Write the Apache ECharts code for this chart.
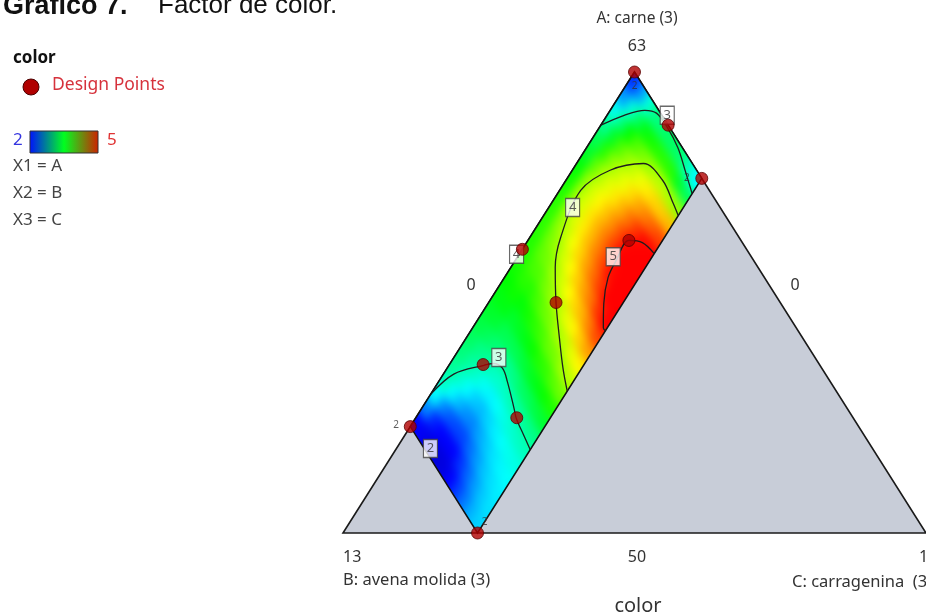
<!DOCTYPE html>
<html><head><meta charset="utf-8">
<script src="https://cdn.jsdelivr.net/npm/echarts@6/dist/echarts.min.js"></script>
<style>
html,body{margin:0;padding:0;background:#fff}
#wrap{position:relative;width:926px;height:616px;overflow:hidden}
.layer{position:absolute;left:0;top:0;width:926px;height:616px}
#surf{filter:blur(5px)}
</style>
</head><body><div id="wrap"><div id="base" class="layer"></div><div id="surf" class="layer"></div><div id="over" class="layer"></div></div>
<script>
// Ternary mixture: A (carne) = 63 - B - C ; pseudo range A 50..63, B 0..13, C 0..13
const vertexB = [0, 13, 0];
const vertexC = [0, 0, 13];
// constrained region (B 0..10, C 0..3)
const regionB = [0, 0, 10, 10];
const regionC = [0, 3, 3, 0];

// response surface "color" on a B x C grid (cell centres)
const gridB = [0.2,0.6,1.0,1.4,1.8,2.2,2.6,3.0,3.4,3.8,4.2,4.6,5.0,5.4,5.8,6.2,6.6,7.0,7.4,7.8,8.2,8.6,9.0,9.4,9.8];
const gridC = [0.15,0.45,0.75,1.05,1.35,1.65,1.95,2.25,2.55,2.85];
const colorValues = [
  [2.15,2.45,2.85,3.10,3.15,3.20,3.20,3.15,2.95,2.75],
  [2.45,2.85,3.20,3.45,3.55,3.60,3.62,3.60,3.40,3.25],
  [2.80,3.15,3.50,3.72,3.85,3.95,4.03,4.05,4.00,3.95],
  [3.07,3.40,3.72,3.92,4.07,4.20,4.30,4.37,4.40,4.45],
  [3.25,3.60,3.90,4.07,4.20,4.35,4.50,4.62,4.72,4.80],
  [3.38,3.78,4.03,4.18,4.32,4.48,4.66,4.84,4.98,5.03],
  [3.48,3.92,4.12,4.27,4.42,4.58,4.77,4.98,5.12,5.18],
  [3.55,3.98,4.15,4.32,4.47,4.63,4.81,5.00,5.18,5.25],
  [3.60,3.98,4.14,4.30,4.45,4.61,4.77,4.95,5.12,5.22],
  [3.62,3.92,4.07,4.23,4.38,4.53,4.68,4.83,5.03,5.13],
  [3.62,3.85,3.97,4.12,4.26,4.40,4.53,4.66,4.85,5.02],
  [3.60,3.78,3.85,3.99,4.12,4.25,4.37,4.47,4.62,4.78],
  [3.58,3.70,3.73,3.85,3.96,4.05,4.18,4.27,4.40,4.53],
  [3.55,3.62,3.60,3.70,3.80,3.87,3.98,4.05,4.17,4.27],
  [3.50,3.54,3.48,3.55,3.62,3.70,3.80,3.85,3.97,4.05],
  [3.45,3.45,3.37,3.40,3.45,3.52,3.60,3.65,3.75,3.82],
  [3.38,3.35,3.26,3.25,3.27,3.33,3.40,3.45,3.52,3.58],
  [3.30,3.23,3.15,3.08,3.07,3.12,3.20,3.24,3.30,3.35],
  [3.22,3.10,3.04,2.93,2.90,2.93,2.98,3.03,3.07,3.10],
  [3.14,3.02,2.90,2.78,2.72,2.76,2.82,2.88,2.92,2.95],
  [3.06,2.90,2.75,2.60,2.55,2.62,2.70,2.76,2.80,2.83],
  [2.95,2.75,2.55,2.42,2.38,2.48,2.58,2.66,2.72,2.76],
  [2.75,2.40,2.25,2.20,2.20,2.32,2.45,2.57,2.65,2.70],
  [2.40,2.10,2.00,1.98,2.00,2.15,2.30,2.45,2.58,2.66],
  [2.00,1.92,1.85,1.82,1.85,2.00,2.18,2.35,2.52,2.62]
];

// design points
const designB = [0, 0, 0, 5, 10, 10, 2.5, 5, 7.5, 7.5];
const designC = [0, 1.5, 3, 0, 0, 3, 2.25, 1.5, 0.75, 2.25];

// contour lines
const contour3TopB = [1.5, 0.84, 0.31, 0.09, 0.05, 0.10, 0.26, 0.43];
const contour3TopC = [0, 0.38, 0.77, 1.07, 1.50, 2.03, 2.52, 3.0];
const contour4B = [1.05, 0.99, 0.90, 1.09, 1.93, 2.87, 3.99, 4.525, 5.0, 5.42, 5.77, 6.0];
const contour4C = [3.0, 2.72, 2.16, 1.49, 0.84, 0.47, 0.69, 0.99, 1.50, 2.07, 2.58, 3.0];
const contour5B = [2.12, 2.23, 2.50, 3.07, 3.49, 3.95, 4.30, 4.30];
const contour5C = [3.0, 2.58, 2.25, 2.25, 2.31, 2.58, 2.91, 3.0];
const contour3BotB = [9.09, 8.29, 7.49, 7.26, 7.12, 7.20, 7.43, 7.52, 7.59, 7.65];
const contour3BotC = [0, 0.23, 0.78, 0.96, 1.23, 1.53, 2.06, 2.25, 2.64, 3.0];

// contour labels
const boxLabelB = [-0.12, 3.29, 3.08, 7.05, 9.86, 5.2];
const boxLabelC = [1.34, 0.53, 2.13, 1.0, 0.76, -0.06];
const boxLabelText = ['3', '4', '5', '3', '2', '4'];
const smallLabelB = [0.2, 0.33, 9.69, 10.3];
const smallLabelC = [0.2, 2.67, 3.0, -0.33];
const smallLabelText = ['2', '2', '2', '2'];

const levelColors = ['#0000b4','#0000ff','#0080ff','#00ffff','#00ff80','#00ff00','#80ff00','#ffff00','#ff8000','#ff0000'];

function toXY(B, C) {
  const a = (13 - B - C) / 13;
  return [C / 13 + a / 2, a];
}
function line(bs, cs) { return bs.map((b, i) => toXY(b, cs[i])); }

const cellData = [];
gridB.forEach((b, i) => gridC.forEach((c, j) => cellData.push([b, c, colorValues[i][j], i, j])));
const hb = (gridB[1] - gridB[0]) / 2, hc = (gridC[1] - gridC[0]) / 2;
const nB = gridB.length, nC = gridC.length;

const F = '"Noto Sans", "Open Sans", sans-serif';
const gridOpt = { left: 343, top: 72, width: 586, height: 461, show: false };
const axes = {
  xAxis: { type: 'value', min: 0, max: 1, show: false },
  yAxis: { type: 'value', min: 0, max: 1, show: false }
};

// ---- base layer: grey ternary triangle, texts and legend
const baseChart = echarts.init(document.getElementById('base'), null, { renderer: 'canvas' });
baseChart.setOption(Object.assign({
  animation: false,
  grid: gridOpt,
  series: [
    { type: 'custom', data: [0], z: 1, silent: true,
      renderItem: (p, api) => ({ type: 'polygon',
        shape: { points: vertexB.map((b, i) => api.coord(toXY(b, vertexC[i]))) },
        style: { fill: '#c8cdd8', stroke: '#1a1a1a', lineWidth: 1.6 } }) }
  ],
  graphic: [
    { type: 'text', left: 3, top: -7, style: { text: 'Gráfico 7.', font: 'bold 27px "Liberation Sans", Arial', fill: '#111' } },
    { type: 'text', left: 158, top: -7, style: { text: 'Factor de color.', font: '26px "Liberation Sans", Arial', fill: '#111' } },
    { type: 'text', left: 13, top: 50, style: { text: 'color', font: 'bold 17px ' + F, fill: '#111' } },
    { type: 'circle', shape: { cx: 31, cy: 87, r: 8 }, style: { fill: '#b00000', stroke: '#4a0000', lineWidth: 1 } },
    { type: 'text', left: 52, top: 76, style: { text: 'Design Points', font: '17.5px ' + F, fill: '#d6323c' } },
    { type: 'rect', shape: { x: 30, y: 131, width: 68, height: 22 },
      style: { fill: new echarts.graphic.LinearGradient(0, 0, 1, 0, [
        { offset: 0, color: '#0010ff' }, { offset: 0.5, color: '#00ff20' }, { offset: 1, color: '#d02000' }]),
        stroke: '#333', lineWidth: 1 } },
    { type: 'text', left: 13, top: 132, style: { text: '2', font: '17px ' + F, fill: '#3434e0' } },
    { type: 'text', left: 107, top: 132, style: { text: '5', font: '17px ' + F, fill: '#e03434' } },
    { type: 'text', left: 13, top: 158, style: { text: 'X1 = A', font: '17px ' + F, fill: '#444' } },
    { type: 'text', left: 13, top: 185, style: { text: 'X2 = B', font: '17px ' + F, fill: '#444' } },
    { type: 'text', left: 13, top: 212, style: { text: 'X3 = C', font: '17px ' + F, fill: '#444' } },
    { type: 'text', x: 637, y: 19, style: { text: 'A: carne (3)', font: '15.5px ' + F, fill: '#333', align: 'center', verticalAlign: 'middle' } },
    { type: 'text', x: 637, y: 46, style: { text: '63', font: '16px ' + F, fill: '#333', align: 'center', verticalAlign: 'middle' } },
    { type: 'text', x: 471, y: 285, style: { text: '0', font: '16px ' + F, fill: '#333', align: 'center', verticalAlign: 'middle' } },
    { type: 'text', x: 795, y: 285, style: { text: '0', font: '16px ' + F, fill: '#333', align: 'center', verticalAlign: 'middle' } },
    { type: 'text', x: 343, y: 557, style: { text: '13', font: '16px ' + F, fill: '#333', align: 'left', verticalAlign: 'middle' } },
    { type: 'text', x: 637, y: 557, style: { text: '50', font: '16px ' + F, fill: '#333', align: 'center', verticalAlign: 'middle' } },
    { type: 'text', x: 919, y: 557, style: { text: '13', font: '16px ' + F, fill: '#333', align: 'left', verticalAlign: 'middle' } },
    { type: 'text', x: 343, y: 580, style: { text: 'B: avena molida (3)', font: '16.5px ' + F, fill: '#333', align: 'left', verticalAlign: 'middle' } },
    { type: 'text', x: 792, y: 582, style: { text: 'C: carragenina  (3)', font: '16.5px ' + F, fill: '#333', align: 'left', verticalAlign: 'middle' } },
    { type: 'text', x: 638, y: 606, style: { text: 'color', font: '20px ' + F, fill: '#333', align: 'center', verticalAlign: 'middle' } }
  ]
}, axes));

// ---- surface layer: cells coloured through the visualMap (smoothed by CSS blur, clipped to region)
const surfChart = echarts.init(document.getElementById('surf'), null, { renderer: 'canvas' });
surfChart.setOption(Object.assign({
  animation: false,
  grid: gridOpt,
  visualMap: { type: 'continuous', show: false, min: 1.625, max: 5, dimension: 2, seriesIndex: 0,
               inRange: { color: levelColors } },
  series: [
    { type: 'custom', data: cellData, silent: true, encode: { x: 0, y: 1 },
      renderItem: (p, api) => {
        const B = api.value(0), C = api.value(1), i = api.value(3), j = api.value(4);
        // edge cells are extended outward so the smoothing does not fade at the boundary
        const b0 = B - hb * (i === 0 ? 4 : 1), b1 = B + hb * (i === nB - 1 ? 4 : 1);
        const c0 = C - hc * (j === 0 ? 4 : 1), c1 = C + hc * (j === nC - 1 ? 4 : 1);
        const pts = [[b0, c0], [b1, c0], [b1, c1], [b0, c1]].map(q => api.coord(toXY(q[0], q[1])));
        const col = api.visual('color');
        return { type: 'polygon', shape: { points: pts }, style: { fill: col, stroke: col, lineWidth: 0.8 } };
      } }
  ]
}, axes));
const clipPts = regionB.map((b, i) => surfChart.convertToPixel({ gridIndex: 0 }, toXY(b, regionC[i])));
document.getElementById('surf').style.clipPath =
  'polygon(' + clipPts.map(p => p[0].toFixed(1) + 'px ' + p[1].toFixed(1) + 'px').join(',') + ')';

// ---- overlay layer: region outline, contours, labels, design points
const contourStyle = { color: '#1e1e1e', width: 1.3 };
function contourSeries(bs, cs) {
  return { type: 'line', data: line(bs, cs), smooth: 0.35, showSymbol: false, symbol: 'none',
           lineStyle: contourStyle, z: 4, silent: true };
}
const overChart = echarts.init(document.getElementById('over'), null, { renderer: 'canvas' });
overChart.setOption(Object.assign({
  animation: false,
  grid: gridOpt,
  series: [
    { type: 'custom', data: [0], z: 3, silent: true,
      renderItem: (p, api) => ({ type: 'polygon',
        shape: { points: regionB.map((b, i) => api.coord(toXY(b, regionC[i]))) },
        style: { fill: 'none', stroke: '#111', lineWidth: 1.5 } }) },
    contourSeries(contour3TopB, contour3TopC),
    contourSeries(contour4B, contour4C),
    contourSeries(contour5B, contour5C),
    contourSeries(contour3BotB, contour3BotC),
    { type: 'scatter', data: boxLabelB.map((b, i) => ({ value: toXY(b, boxLabelC[i]), name: boxLabelText[i] })),
      symbol: 'rect', symbolSize: [14, 18], z: 5, silent: true,
      itemStyle: { color: '#ffffff', borderColor: '#444', borderWidth: 1.3 },
      label: { show: true, position: 'inside', formatter: '{b}', color: '#333', fontSize: 13, fontFamily: F } },
    { type: 'scatter', data: smallLabelB.map((b, i) => ({ value: toXY(b, smallLabelC[i]), name: smallLabelText[i] })),
      symbolSize: 0, z: 5, silent: true,
      label: { show: true, position: 'inside', formatter: '{b}', color: '#333', fontSize: 10, fontFamily: F } },
    { type: 'scatter', data: designB.map((b, i) => toXY(b, designC[i])), symbol: 'circle', symbolSize: 12, z: 6,
      itemStyle: { color: '#b00000', borderColor: '#5a0000', borderWidth: 1 } }
  ]
}, axes));
</script></body></html>
